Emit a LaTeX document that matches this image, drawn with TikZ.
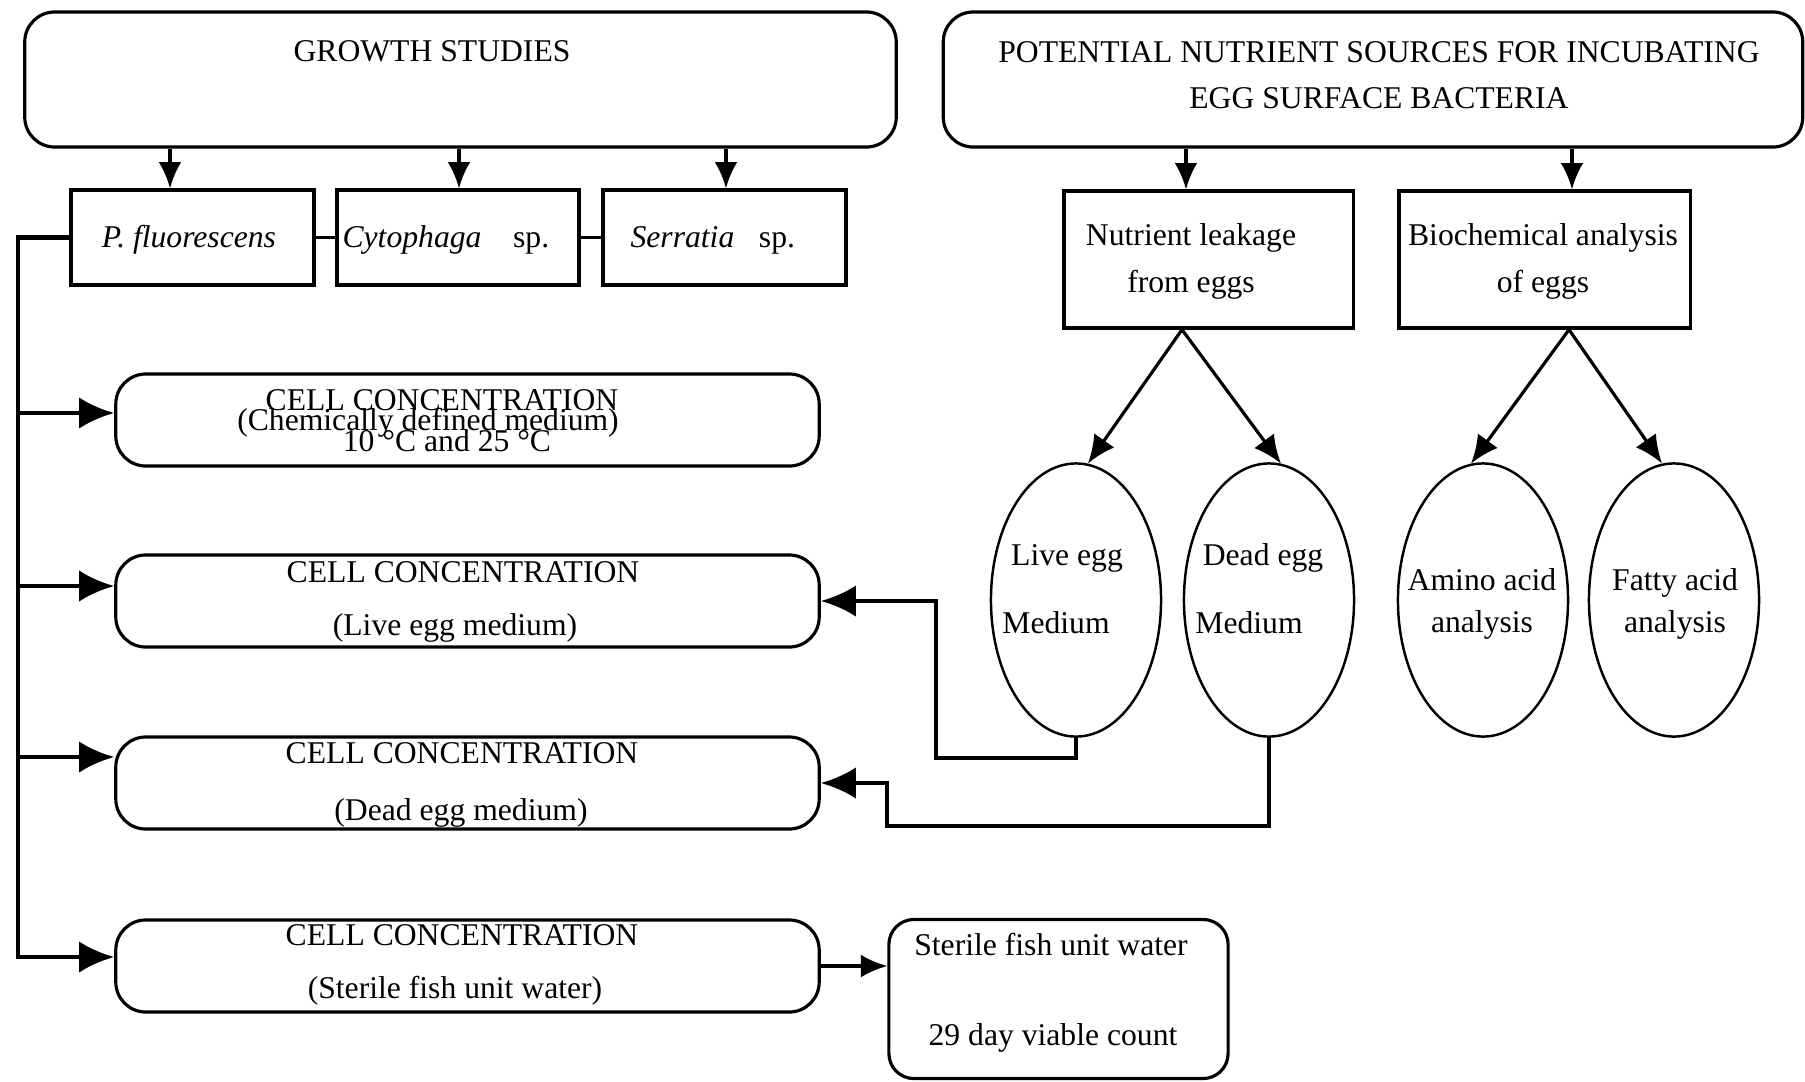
\documentclass[tikz,border=0pt]{standalone}
\usepackage{fontspec}
\setmainfont{Liberation Serif}
\usetikzlibrary{shapes.geometric,arrows.meta}
\begin{document}
\begin{tikzpicture}[x=0.01cm,y=-0.01cm,line width=0.9pt,
 txt/.style={inner sep=0pt,anchor=base,font=\fontsize{9}{11}\selectfont},
 rbox/.style={draw,rounded corners=0.3cm,inner sep=0pt},
 sbox/.style={draw,inner sep=0pt},
 egg/.style={draw,ellipse,inner sep=0pt,minimum width=1.7cm,minimum height=2.73cm,line width=0.7pt},
 bigtip/.style={-{Latex[length=10pt,width=9pt]}},
 smalltip/.style={-{Latex[length=7.5pt,width=6.5pt]}},
 midtip/.style={-{Latex[length=8pt,width=7pt]}},
 heavy/.style={line width=1.3pt}]
\useasboundingbox (0,0) rectangle (1805,1081);

% top boxes
\node[rbox,minimum width=8.71cm,minimum height=1.35cm] (growth) at (460.5,79.5) {};
\node[txt] (tgrowth) at (432,61) {GROWTH STUDIES};
\node[rbox,minimum width=8.59cm,minimum height=1.35cm] (pot) at (1373,79.5) {};
\node[txt] (tpot1) at (1379,62) {POTENTIAL NUTRIENT SOURCES FOR INCUBATING};
\node[txt] (tpot2) at (1379,108) {EGG SURFACE BACTERIA};

% bacteria boxes
\node[sbox,minimum width=2.43cm,minimum height=0.95cm] (pf) at (192.5,237.5) {};
\node[sbox,minimum width=2.42cm,minimum height=0.95cm] (cy) at (458,237.5) {};
\node[sbox,minimum width=2.43cm,minimum height=0.95cm] (se) at (724.5,237.5) {};
\node[txt] (tpf) at (189,247) {\textit{P. fluorescens}};
\node[txt,anchor=base west] (tcy) at (341,247) {\textit{Cytophaga}\hspace{9pt}sp.};
\node[txt,anchor=base west] (tse) at (629,247) {\textit{Serratia}\hspace{7pt}sp.};

% cell concentration boxes
\node[rbox,minimum width=7.03cm,minimum height=0.92cm] (c1) at (467.5,420) {};
\node[rbox,minimum width=7.03cm,minimum height=0.92cm] (c2) at (467.5,601) {};
\node[rbox,minimum width=7.03cm,minimum height=0.92cm] (c3) at (467.5,783) {};
\node[rbox,minimum width=7.03cm,minimum height=0.92cm] (c4) at (467.5,966) {};
\node[txt] (tc1a) at (442,410) {CELL CONCENTRATION};
\node[txt] (tc1b) at (428,430) {(Chemically defined medium)};
\node[txt] (tc1c) at (447,451) {10 °C and 25 °C};
\node[txt] (tc2a) at (463,582) {CELL CONCENTRATION};
\node[txt] (tc2b) at (455,635) {(Live egg medium)};
\node[txt] (tc3a) at (462,763) {CELL CONCENTRATION};
\node[txt] (tc3b) at (461,820) {(Dead egg medium)};
\node[txt] (tc4a) at (462,945) {CELL CONCENTRATION};
\node[txt] (tc4b) at (455,998) {(Sterile fish unit water)};

% right boxes
\node[sbox,minimum width=2.89cm,minimum height=1.37cm] (nut) at (1208.5,259.5) {};
\node[sbox,minimum width=2.91cm,minimum height=1.37cm] (bio) at (1544.5,259.5) {};
\node[txt] (tn1) at (1191,245) {Nutrient leakage};
\node[txt] (tn2) at (1191,292) {from eggs};
\node[txt] (tb1) at (1543,245) {Biochemical analysis};
\node[txt] (tb2) at (1543,292) {of eggs};

% ellipses
\node[egg] (live) at (1076,600) {};
\node[egg] (dead) at (1269,600) {};
\node[egg] (amino) at (1483,600) {};
\node[egg] (fatty) at (1674,600) {};
\node[txt] (tl1) at (1067,565) {Live egg};
\node[txt] (tl2) at (1056,633) {Medium};
\node[txt] (td1) at (1263,565) {Dead egg};
\node[txt] (td2) at (1249,633) {Medium};
\node[txt] (ta1) at (1482,590) {Amino acid};
\node[txt] (ta2) at (1482,632) {analysis};
\node[txt] (tf1) at (1675,590) {Fatty acid};
\node[txt] (tf2) at (1675,632) {analysis};

% viable count box
\node[rbox,rounded corners=0.25cm,minimum width=3.39cm,minimum height=1.59cm] (via) at (1058.5,999) {};
\node[txt] (tv1) at (1051,955) {Sterile fish unit water};
\node[txt] (tv2) at (1053,1045) {29 day viable count};

% connectors
\coordinate (xa) at (170,0);
\coordinate (xb) at (459,0);
\coordinate (xc) at (726,0);
\draw[smalltip] (growth.south -| xa) -- (pf.north -| xa);
\draw[smalltip] (growth.south -| xb) -- (cy.north -| xb);
\draw[smalltip] (growth.south -| xc) -- (se.north -| xc);
\draw (pf.east) -- (cy.west);
\draw (cy.east) -- (se.west);

\coordinate (tk) at (18,0);
\coordinate (y1) at (0,413);
\coordinate (y2) at (0,586);
\coordinate (y3) at (0,757);
\coordinate (y4) at (0,957);
\draw[heavy,bigtip] (pf.west) -| (tk |- y4) -- (c4.west |- y4);
\draw[heavy,bigtip] (tk |- y1) -- (c1.west |- y1);
\draw[heavy,bigtip] (tk |- y2) -- (c2.west |- y2);
\draw[heavy,bigtip] (tk |- y3) -- (c3.west |- y3);

\coordinate (xd) at (1186,0);
\coordinate (xe) at (1572,0);
\draw[smalltip] (pot.south -| xd) -- (nut.north -| xd);
\draw[smalltip] (pot.south -| xe) -- (bio.north -| xe);

\coordinate (xf) at (1182,0);
\coordinate (xg) at (1569,0);
\draw[midtip] (nut.south -| xf) -- (live.85);
\draw[midtip] (nut.south -| xf) -- (dead.85);
\draw[midtip] (bio.south -| xg) -- (amino.95);
\draw[midtip] (bio.south -| xg) -- (fatty.95);

\coordinate (lb) at (936,758);
\coordinate (db) at (887,826);
\draw[heavy,bigtip] (live.south) |- (lb) |- (c2.east);
\draw[heavy,bigtip] (dead.south) |- (db) |- (c3.east);

\draw[smalltip] (c4.east) -- (c4.east -| via.west);
\end{tikzpicture}
\end{document}
